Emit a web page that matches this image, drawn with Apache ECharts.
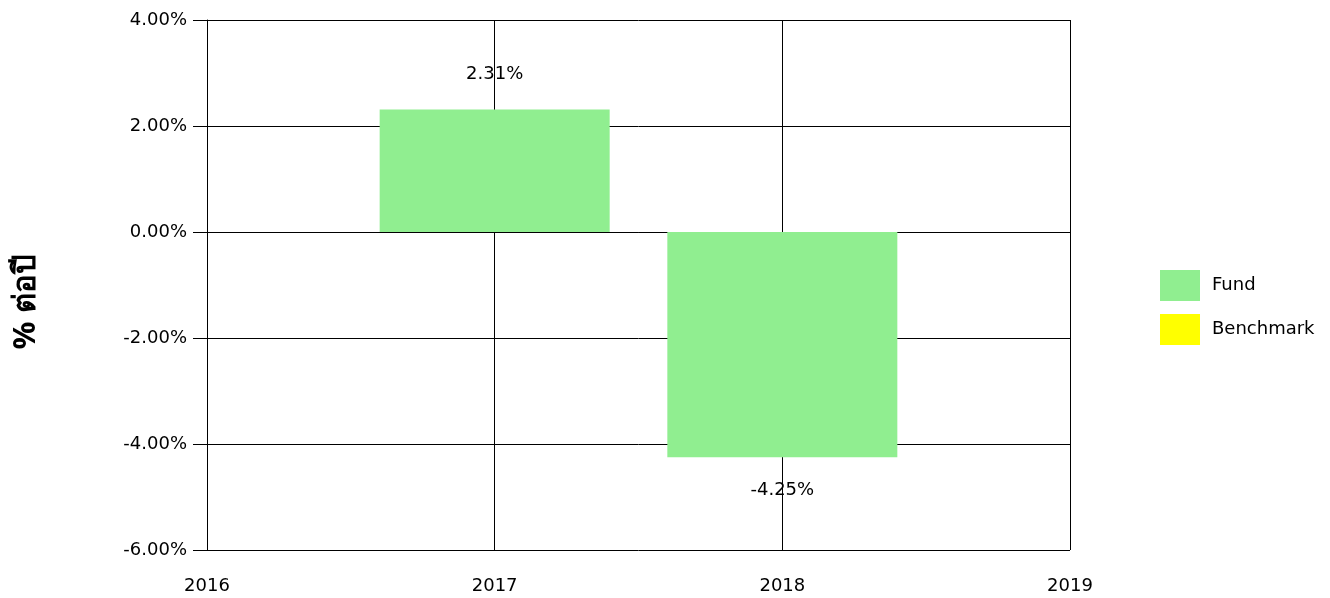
<!DOCTYPE html>
<html>
<head>
<meta charset="utf-8">
<script src="https://cdn.jsdelivr.net/npm/echarts@6/dist/echarts.min.js"></script>
<style>
html,body{margin:0;padding:0;background:#fff;}
#chart{width:1330px;height:598px;}
</style>
</head>
<body>
<div id="chart"></div>
<script>
const years = [2017, 2018];
const fundValues = [2.31, -4.25];
const benchmarkValues = [];
const xTicks = [2016, 2017, 2018, 2019];
const yTicks = [-6, -4, -2, 0, 2, 4];
const yTitle = '% ต่อปี';

const chart = echarts.init(document.getElementById('chart'));
const font = '"DejaVu Sans", Verdana, sans-serif';
const option = {
  animation: false,
  grid: {left: 207, right: 260, top: 20, bottom: 48, containLabel: false},
  xAxis: {
    type: 'value',
    min: xTicks[0], max: xTicks[xTicks.length - 1], interval: 1,
    axisLine: {show: true, lineStyle: {color: '#000', width: 1}},
    axisTick: {show: true, length: 7, lineStyle: {color: '#000'}},
    splitLine: {show: true, lineStyle: {color: '#000', width: 1}},
    axisLabel: {color: '#000', fontFamily: font, fontSize: 18, margin: 27,
      formatter: v => String(v)}
  },
  yAxis: {
    type: 'value',
    min: yTicks[0], max: yTicks[yTicks.length - 1], interval: 2,
    axisLine: {show: true, lineStyle: {color: '#000', width: 1}},
    axisTick: {show: true, length: 14, lineStyle: {color: '#000'}},
    splitLine: {show: true, lineStyle: {color: '#000', width: 1}},
    axisLabel: {color: '#000', fontFamily: font, fontSize: 18, margin: 20,
      formatter: v => v.toFixed(2) + '%'}
  },
  legend: {
    orient: 'vertical', left: 1160, top: 270, padding: 0,
    itemWidth: 40, itemHeight: 31, itemGap: 13,
    icon: 'rect',
    textStyle: {color: '#000', fontFamily: font, fontSize: 18, padding: [0, 0, 4, 7]},
    data: ['Fund', 'Benchmark']
  },
  graphic: [{
    type: 'text', x: 26, y: 302, rotation: Math.PI / 2,
    style: {text: yTitle, font: 'bold 31px "Noto Sans", sans-serif', fill: '#000',
      textAlign: 'center', textVerticalAlign: 'middle'}
  }],
  series: [
    {
      name: 'Fund', type: 'bar', barWidth: 230, barGap: '-100%',
      itemStyle: {color: '#90EE90'},
      z: 3,
      data: years.map((y, i) => ({
        value: [y, fundValues[i]],
        label: {show: true, position: fundValues[i] >= 0 ? 'top' : 'bottom',
          distance: fundValues[i] >= 0 ? 26 : 24,
          color: '#000', fontFamily: font, fontSize: 18,
          formatter: fundValues[i].toFixed(2) + '%'}
      }))
    },
    {
      name: 'Benchmark', type: 'bar', barWidth: 230, barGap: '-100%',
      itemStyle: {color: '#FFFF00'},
      data: benchmarkValues
    }
  ]
};
chart.setOption(option);
</script>
</body>
</html>
